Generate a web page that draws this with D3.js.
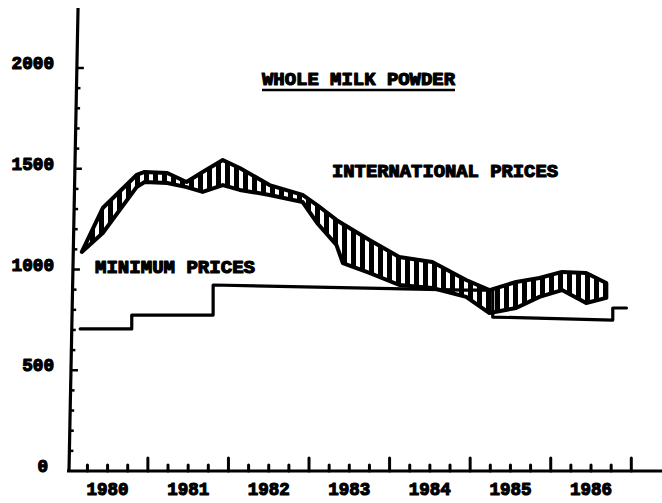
<!DOCTYPE html>
<html><head><meta charset="utf-8">
<script src="https://cdn.jsdelivr.net/npm/d3@7"></script>
<style>
html,body{margin:0;padding:0;background:#fff;}
svg text{font-family:"Liberation Mono","DejaVu Sans Mono",monospace;font-weight:bold;fill:#000;stroke:#000;stroke-width:1.2px;stroke-linejoin:round;}
</style></head>
<body><svg id="chart" width="662" height="503"></svg>
<script>
// ---- data ----
const yearLabels = ['1980','1981','1982','1983','1984','1985','1986'];
const yTickValues = [0, 500, 1000, 1500, 2000];
const intlDates = [1980.18,1980.44,1980.86,1980.96,1981.24,1981.48,1981.68,1981.93,1982.14,1982.51,1982.92,1983.10,1983.34,1983.42,1983.75,1984.12,1984.53,1984.95,1985.24,1985.57,1985.86,1986.14,1986.44,1986.69];
const intlHigh  = [1087,1305,1469,1484,1479,1434,1484,1543,1504,1419,1370,1320,1246,1226,1146,1062,1037,948,898,938,958,988,983,933];
const intlLow   = [1087,1181,1409,1434,1429,1409,1385,1419,1395,1370,1335,1231,1122,1032,983,923,908,864,784,809,864,898,834,859];
const minDates  = [1980.16,1980.80,1980.80,1981.81,1981.81,1984.95,1985.28,1985.28,1986.77,1986.77,1986.94];
const minPrices = [705,705,774,774,923,898,898,764,749,809,809];

const svg = d3.select('#chart');
const x = d3.scaleLinear().domain([1980, 1987]).range([67.3, 631.3]);
const y = d3.scaleLinear().domain([0, 2000]).range([471, 68]);

// hatch pattern
const defs = svg.append('defs');
defs.append('pattern').attr('id','hatch').attr('patternUnits','userSpaceOnUse')
  .attr('width',9).attr('height',10)
  .append('rect').attr('x',0).attr('y',0).attr('width',5).attr('height',10).attr('fill','#000');

// y axis (slightly tilted like the scan)
const axX = yy => 69 + (471 - yy) / 461 * 9;
svg.append('line').attr('x1', axX(8)).attr('y1', 8).attr('x2', axX(472)).attr('y2', 472)
  .attr('stroke','#000').attr('stroke-width',3.2);
const minorY = d3.range(100, 2001, 100);
svg.selectAll('.ytick').data(minorY).enter().append('line')
  .attr('x1', d => axX(y(d))).attr('x2', d => axX(y(d)) + (yTickValues.includes(d) ? 7 : 4))
  .attr('y1', d => y(d)).attr('y2', d => y(d))
  .attr('stroke','#000').attr('stroke-width',2.5);
svg.selectAll('.ylab').data(yTickValues).enter().append('text')
  .attr('x', d => d === 0 ? 48 : 54).attr('y', d => y(d) + 1).attr('text-anchor','end')
  .attr('font-size', 18)
  .attr('textLength', d => String(d).length * 10.6).attr('lengthAdjust','spacingAndGlyphs')
  .text(d => d);

// x axis
svg.append('line').attr('x1', 67).attr('y1', 471).attr('x2', 662).attr('y2', 471)
  .attr('stroke','#000').attr('stroke-width',3);
const quarterTicks = d3.range(0, 29).map(i => 1980 + i * 0.25).filter(d => d > 1980);
svg.selectAll('.xtick').data(quarterTicks).enter().append('line')
  .attr('x1', d => x(d)).attr('x2', d => x(d))
  .attr('y1', 471).attr('y2', d => Number.isInteger(Math.round(d*1000)/1000) ? 458 : 465)
  .attr('stroke','#000').attr('stroke-width',3).attr('stroke-linecap','round');
svg.selectAll('.xlab').data(yearLabels).enter().append('text')
  .attr('x', d => x(+d + 0.5) - 21).attr('y', 495)
  .attr('font-size', 18)
  .attr('textLength', 42).attr('lengthAdjust','spacingAndGlyphs')
  .text(d => d);

// international price band
const band = intlDates.map((d, i) => ({date: d, hi: intlHigh[i], lo: intlLow[i]}));
const area = d3.area().x(d => x(d.date)).y0(d => y(d.lo)).y1(d => y(d.hi));
svg.append('path').datum(band).attr('d', area)
  .attr('fill','url(#hatch)').attr('stroke','#000').attr('stroke-width',4)
  .attr('stroke-linejoin','round');

// minimum prices
const mins = minDates.map((d, i) => ({date: d, v: minPrices[i]}));
svg.append('path').datum(mins)
  .attr('d', d3.line().x(d => x(d.date)).y(d => y(d.v)))
  .attr('fill','none').attr('stroke','#000').attr('stroke-width',3.2)
  .attr('stroke-linejoin','round').attr('stroke-linecap','round');

// labels
svg.append('text').attr('x', 262).attr('y', 85).attr('font-size', 18)
  .attr('textLength', 193).attr('lengthAdjust','spacingAndGlyphs').text('WHOLE MILK POWDER');
svg.append('line').attr('x1', 262).attr('x2', 455).attr('y1', 90).attr('y2', 90)
  .attr('stroke','#000').attr('stroke-width',2.5);
svg.append('text').attr('x', 332).attr('y', 177).attr('font-size', 18)
  .attr('textLength', 226).attr('lengthAdjust','spacingAndGlyphs').text('INTERNATIONAL PRICES');
svg.append('text').attr('x', 95).attr('y', 273).attr('font-size', 18)
  .attr('textLength', 160).attr('lengthAdjust','spacingAndGlyphs').text('MINIMUM PRICES');
</script></body></html>
